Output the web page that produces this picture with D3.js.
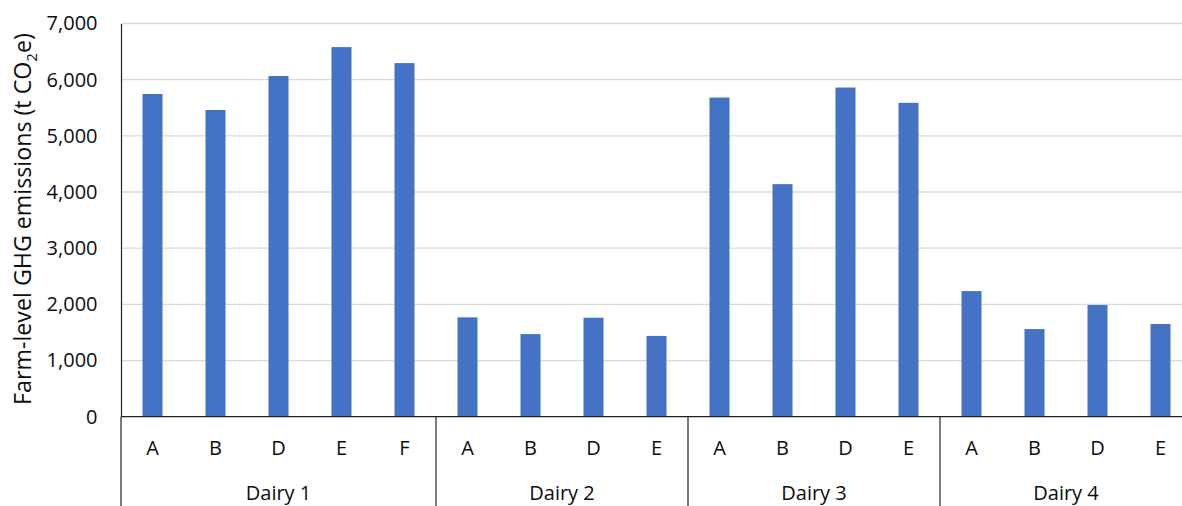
<!DOCTYPE html>
<html>
<head>
<meta charset="utf-8">
<script src="https://cdn.jsdelivr.net/npm/d3@7"></script>
<style>
  html, body { margin: 0; padding: 0; background: #fff; }
  svg { display: block; font-family: "Open Sans", sans-serif; }
</style>
</head>
<body>
<svg id="chart" width="1182" height="506"></svg>
<script>
// Data
const groups = ["Dairy 1", "Dairy 2", "Dairy 3", "Dairy 4"];
const categories = [
  ["Dairy 1", "A"], ["Dairy 1", "B"], ["Dairy 1", "D"], ["Dairy 1", "E"], ["Dairy 1", "F"],
  ["Dairy 2", "A"], ["Dairy 2", "B"], ["Dairy 2", "D"], ["Dairy 2", "E"],
  ["Dairy 3", "A"], ["Dairy 3", "B"], ["Dairy 3", "D"], ["Dairy 3", "E"],
  ["Dairy 4", "A"], ["Dairy 4", "B"], ["Dairy 4", "D"], ["Dairy 4", "E"]
];
const values = [5745, 5460, 6065, 6580, 6295, 1768, 1470, 1762, 1438, 5682, 4140, 5860, 5588, 2236, 1560, 1988, 1650];
const yTicks = [0, 1000, 2000, 3000, 4000, 5000, 6000, 7000];

(function () {
const svg = d3.select("#chart");
const mLeft = 121, mRight = 1192, mTop = 23.5, mBottom = 416.7;
const fs = 20, ink = "#0d0d0d";

const keys = categories.map((c, i) => i);
const xBand = d3.scaleBand().domain(keys).range([mLeft, mRight]);
const y = d3.scaleLinear().domain([0, 7000]).range([mBottom, mTop]);

// gridlines
svg.append("g").selectAll("line").data(yTicks.filter(t => t > 0)).join("line")
  .attr("x1", mLeft).attr("x2", mRight)
  .attr("y1", d => y(d)).attr("y2", d => y(d))
  .attr("stroke", "#d9d9d9").attr("stroke-width", 1.3);

// bars
svg.append("g").selectAll("rect").data(values).join("rect")
  .attr("x", (d, i) => xBand(i) + xBand.bandwidth() / 2 - 10)
  .attr("width", 20)
  .attr("y", d => y(d))
  .attr("height", d => y(0) - y(d))
  .attr("fill", "#4472c4");

// y axis
const yAxis = d3.axisLeft(y).tickValues(yTicks).tickFormat(d3.format(",")).tickSize(0).tickPadding(23.5);
const yg = svg.append("g").attr("transform", `translate(${mLeft},0)`).call(yAxis);
yg.select(".domain").attr("stroke", "#222").attr("stroke-width", 1.2);
yg.selectAll("text").attr("font-size", fs).attr("fill", ink).attr("font-family", "'Open Sans', sans-serif");

// x axis baseline
svg.append("line").attr("x1", mLeft).attr("x2", mRight).attr("y1", mBottom).attr("y2", mBottom)
  .attr("stroke", "#222").attr("stroke-width", 1.2);

// category labels
svg.append("g").selectAll("text").data(categories).join("text")
  .attr("x", (d, i) => xBand(i) + xBand.bandwidth() / 2)
  .attr("y", 448)
  .attr("dy", "0.36em")
  .attr("text-anchor", "middle")
  .attr("font-size", fs).attr("fill", ink)
  .text(d => d[1]);

// group separators and labels
const groupInfo = groups.map(g => {
  const idx = categories.map((c, i) => c[0] === g ? i : -1).filter(i => i >= 0);
  return { g, start: xBand(idx[0]), end: xBand(idx[idx.length - 1]) + xBand.bandwidth() };
});
const seps = [mLeft].concat(groupInfo.slice(0, -1).map(d => d.end));
svg.append("g").selectAll("line").data(seps).join("line")
  .attr("x1", d => d).attr("x2", d => d)
  .attr("y1", mBottom).attr("y2", 506)
  .attr("stroke", "#222").attr("stroke-width", 1.2);

svg.append("g").selectAll("text").data(groupInfo).join("text")
  .attr("x", d => (d.start + d.end) / 2)
  .attr("y", 493)
  .attr("dy", "0.36em")
  .attr("text-anchor", "middle")
  .attr("font-size", fs).attr("fill", ink)
  .text(d => d.g);

// y axis title
const title = svg.append("text")
  .attr("transform", `translate(31,219) rotate(-90)`)
  .attr("text-anchor", "middle")
  .attr("font-size", 20).attr("fill", ink);
title.append("tspan").text("Farm-level GHG emissions (t CO");
title.append("tspan").attr("class", "sub").attr("font-size", 13).attr("dy", 5).text("2");
title.append("tspan").attr("dy", -5).text("e)");
// fit title to the reference length
const len = title.node().getComputedTextLength();
const s = 20 * 372 / len;
title.attr("font-size", s);
title.select(".sub").attr("font-size", s * 0.65).attr("dy", s * 0.25);
title.selectAll("tspan").filter((d, i) => i === 2).attr("dy", -s * 0.25);
})();
</script>
</body>
</html>
